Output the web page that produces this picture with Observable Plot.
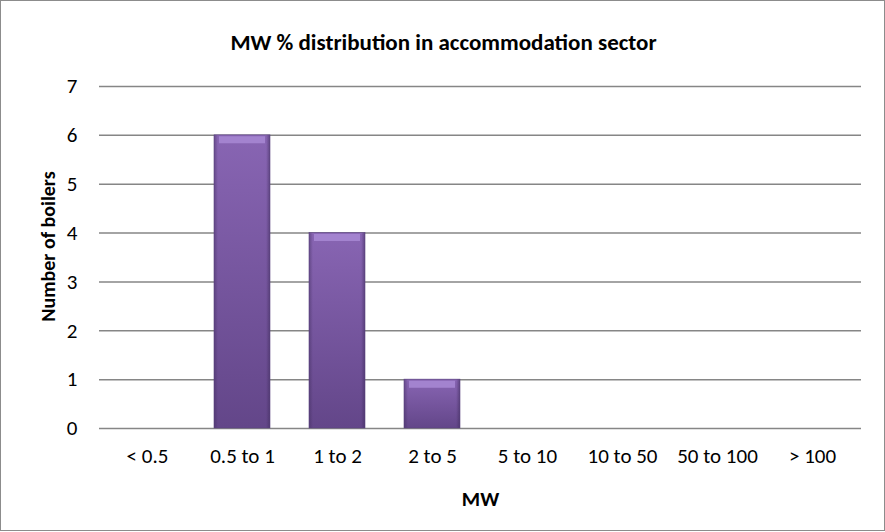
<!DOCTYPE html>
<html><head><meta charset="utf-8">
<script src="https://cdn.jsdelivr.net/npm/d3@7"></script>
<script src="https://cdn.jsdelivr.net/npm/@observablehq/plot@0.6"></script>
<style>
body{margin:0;background:#fff;}
#wrap{width:883px;height:529px;border:1px solid #8c8c8c;position:relative;}
svg{font-family:Carlito,Lato,"Open Sans",sans-serif;}
</style></head>
<body><div id="wrap"></div>
<script>
const categories = ["< 0.5","0.5 to 1","1 to 2","2 to 5","5 to 10","10 to 50","50 to 100","> 100"];
const counts = [0,6,4,1,0,0,0,0];
const yTicks = [0,1,2,3,4,5,6,7];
const title = "MW % distribution in accommodation sector";
const xLabel = "MW";
const yLabel = "Number of boilers";

const data = categories.map((c,i)=>({cat:c, n:counts[i]}));
const shown = data.filter(d=>d.n>0);

const defs = () => {
  const svgNS = "http://www.w3.org/2000/svg";
  const g = document.createElementNS(svgNS,"defs");
  g.innerHTML = `<linearGradient id="barv" x1="0" y1="0" x2="0" y2="1">
      <stop offset="0" stop-color="#8865b3"/>
      <stop offset="1" stop-color="#634689"/></linearGradient>
    <linearGradient id="barh" x1="0" y1="0" x2="1" y2="0">
      <stop offset="0" stop-color="#3e2b5a" stop-opacity="0.45"/>
      <stop offset="0.07" stop-color="#3e2b5a" stop-opacity="0"/>
      <stop offset="0.93" stop-color="#3e2b5a" stop-opacity="0"/>
      <stop offset="1" stop-color="#3e2b5a" stop-opacity="0.55"/></linearGradient>`;
  return g;
};

const chart = Plot.plot({
  width: 883, height: 529,
  marginTop: 85, marginBottom: 102, marginLeft: 98, marginRight: 23,
  style: {fontSize: "21px", color: "#000", background: "transparent"},
  x: {domain: categories, paddingInner: 0.41, paddingOuter: 0.205, label: null},
  y: {domain: [0,7], label: null},
  marks: [
    defs,
    Plot.gridY(yTicks, {stroke: "#868686", strokeOpacity: 1, strokeWidth: 1.5}),
    Plot.barY(shown, {x: "cat", y: "n", fill: "url(#barv)"}),
    Plot.barY(shown, {x: "cat", y: "n", fill: "url(#barh)", stroke: "#5a4380", strokeWidth: 0.6}),
    Plot.tickY(shown, {x: "cat", y: "n", stroke: "#a383cf", strokeWidth: 7, dy: 4.5, insetLeft: 5, insetRight: 5}),
    Plot.axisX({tickSize: 0, tickPadding: 20, label: null, fontSize: 21}),
    Plot.axisY({ticks: yTicks, tickFormat: d3.format("d"), tickSize: 0, tickPadding: 22, label: null, fontSize: 21}),
    Plot.text([title], {frameAnchor: "top", lineAnchor: "middle", dx: -37, dy: -44, fontSize: 23, fontWeight: "bold"}),
    Plot.text([xLabel], {frameAnchor: "bottom", lineAnchor: "middle", dy: 71, fontSize: 21, fontWeight: "bold"}),
    Plot.text([yLabel], {frameAnchor: "left", textAnchor: "middle", lineAnchor: "middle", dx: -51, dy: -11, rotate: -90, fontSize: 20, fontWeight: "bold"})
  ]
});
document.getElementById("wrap").appendChild(chart);
</script></body></html>
